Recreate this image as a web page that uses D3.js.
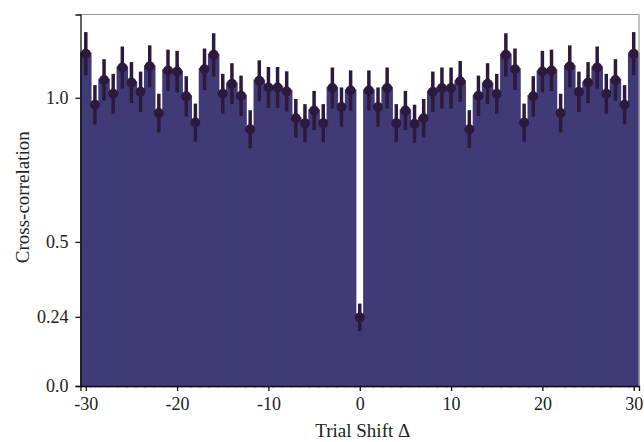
<!DOCTYPE html>
<html>
<head>
<meta charset="utf-8">
<script src="https://cdn.jsdelivr.net/npm/d3@7"></script>
<style>
  body { margin: 0; background: #fff; }
  text { font-family: "Liberation Serif", "DejaVu Serif", serif; fill: #222; }
</style>
</head>
<body>
<svg id="chart" width="644" height="442"></svg>
<script>
// Trial shifts and measured cross-correlation
var shifts = d3.range(-30, 31);
var values = [
  1.153, 0.976, 1.062, 1.014, 1.105, 1.053, 1.021, 1.109, 0.947, 1.095,
  1.091, 1.005, 0.914, 1.099, 1.149, 1.014, 1.049, 1.007, 0.891, 1.059,
  1.036, 1.036, 1.022, 0.929, 0.912, 0.956, 0.912, 1.034, 0.968, 1.025,
  0.238,
  1.025, 0.968, 1.034, 0.912, 0.956, 0.910, 0.929, 1.021, 1.034, 1.034,
  1.057, 0.891, 1.007, 1.049, 1.014, 1.149, 1.099, 0.914, 1.005, 1.091,
  1.095, 0.947, 1.109, 1.021, 1.053, 1.105, 1.014, 1.062, 0.976, 1.153
];
var errors = [
  0.075, 0.068, 0.072, 0.069, 0.073, 0.071, 0.070, 0.073, 0.067, 0.072,
  0.072, 0.070, 0.066, 0.072, 0.075, 0.069, 0.071, 0.070, 0.066, 0.071,
  0.071, 0.071, 0.070, 0.067, 0.066, 0.068, 0.066, 0.071, 0.068, 0.070,
  0.048,
  0.070, 0.068, 0.071, 0.066, 0.068, 0.066, 0.067, 0.070, 0.071, 0.071,
  0.071, 0.066, 0.070, 0.071, 0.069, 0.075, 0.072, 0.066, 0.070, 0.072,
  0.072, 0.067, 0.073, 0.070, 0.071, 0.073, 0.069, 0.072, 0.068, 0.075
];
var xTicks = [-30, -20, -10, 0, 10, 20, 30];
var xTickLabels = ['-30', '-20', '-10', '0', '10', '20', '30'];
var yTicks = [0.0, 0.24, 0.5, 1.0];
var yTickLabels = ['0.0', '0.24', '0.5', '1.0'];

var data = shifts.map(function(s, i){ return {x: s, y: values[i], e: errors[i]}; });

var margin = {left: 80.5, right: 5, top: 14.5, bottom: 56};
var W = 644, H = 442;
var svg = d3.select('#chart');

var x = d3.scaleLinear().domain([-30.58, 30.58]).range([margin.left, W - margin.right]);
var y = d3.scaleLinear().domain([0, 1.289]).range([H - margin.bottom, margin.top]);

var barColor = '#403b76', errColor = '#2b1a3e';
var bw = x(1) - x(0);

// bars
svg.append('g')
  .selectAll('rect')
    .data(data)
  .enter().append('rect')
    .attr('x', function(d){ return x(d.x) - bw / 2; })
    .attr('width', bw)
    .attr('y', function(d){ return y(d.y); })
    .attr('height', function(d){ return y(0) - y(d.y); })
    .attr('fill', barColor)
    .attr('stroke', barColor)
    .attr('stroke-width', 2.4);

// error bars
var eb = svg.append('g');
eb.selectAll('line')
    .data(data)
  .enter().append('line')
    .attr('x1', function(d){ return x(d.x); })
    .attr('x2', function(d){ return x(d.x); })
    .attr('y1', function(d){ return y(d.y - d.e); })
    .attr('y2', function(d){ return y(d.y + d.e); })
    .attr('stroke', errColor)
    .attr('stroke-width', 3.5);
eb.selectAll('circle')
    .data(data)
  .enter().append('circle')
    .attr('cx', function(d){ return x(d.x); })
    .attr('cy', function(d){ return y(d.y); })
    .attr('r', 5)
    .attr('fill', errColor);

// frame: top/right light, left/bottom dark
var x0 = x.range()[0], x1 = x.range()[1], y0 = y.range()[0], y1 = y.range()[1];
svg.append('line').attr('x1', x0).attr('x2', x1).attr('y1', y1).attr('y2', y1)
  .attr('stroke', '#999').attr('stroke-width', 1.2);
svg.append('line').attr('x1', x1).attr('x2', x1).attr('y1', y1).attr('y2', y0)
  .attr('stroke', '#999').attr('stroke-width', 1.2);

// axes
var xAxis = svg.append('g')
  .attr('transform', 'translate(0,' + y0 + ')')
  .call(d3.axisBottom(x).tickValues(xTicks).tickSize(5).tickPadding(6)
    .tickFormat(function(d, i){ return xTickLabels[i]; }));
var yAxis = svg.append('g')
  .attr('transform', 'translate(' + x0 + ',0)')
  .call(d3.axisLeft(y).tickValues(yTicks).tickSize(5).tickPadding(7)
    .tickFormat(function(d, i){ return yTickLabels[i]; }));

[xAxis, yAxis].forEach(function(a)
{
    a.select('.domain').attr('stroke', '#111').attr('stroke-width', 1.3);
    a.selectAll('.tick line').attr('stroke', '#111').attr('stroke-width', 1.3);
    a.selectAll('.tick text').attr('font-size', 18).attr('font-family', '"Liberation Serif", serif').attr('fill', '#222');
});

// labels
svg.append('text')
  .attr('x', x(0) + 3).attr('y', 437)
  .attr('text-anchor', 'middle')
  .attr('font-size', 19)
  .text('Trial Shift \u0394');

svg.append('text')
  .attr('transform', 'translate(29,' + y(0.655) + ') rotate(-90)')
  .attr('text-anchor', 'middle')
  .attr('font-size', 19)
  .text('Cross-correlation');
</script>
</body>
</html>
